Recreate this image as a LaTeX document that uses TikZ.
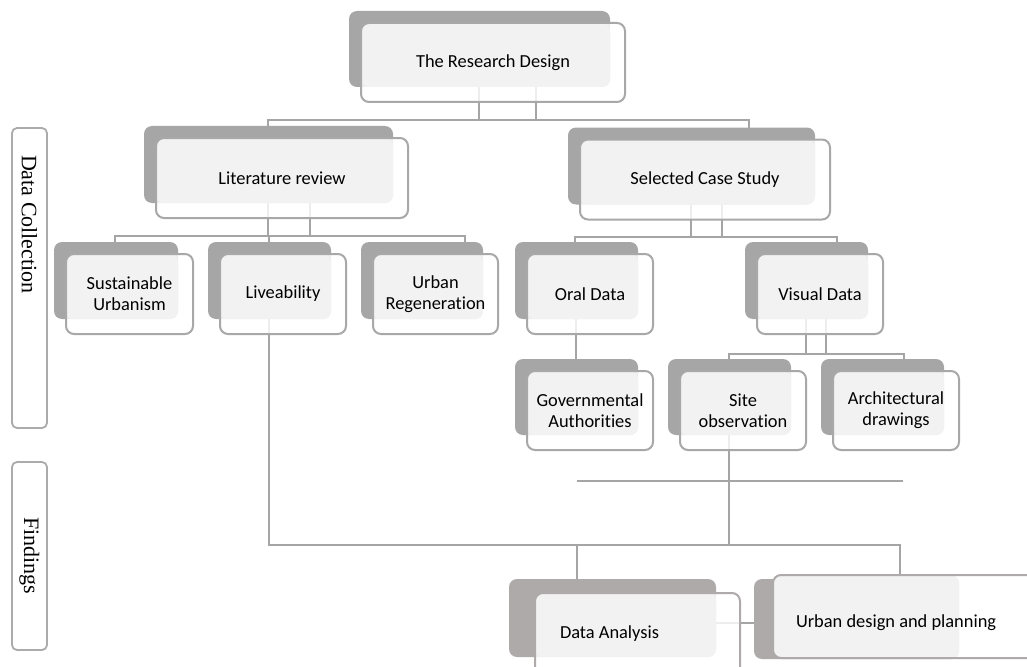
\documentclass[tikz,border=0pt]{standalone}
\usepackage{fontspec}
\newfontfamily\boxfont{Carlito}[Ligatures={NoCommon,NoContextual}]
\newfontfamily\sidefont{Liberation Serif}
\usetikzlibrary{backgrounds}
\definecolor{backfill}{HTML}{A6A6A6}
\definecolor{frontline}{HTML}{A8A8A8}
\definecolor{lightfill}{HTML}{F2F2F2}
\definecolor{linkgray}{HTML}{A5A5A5}
\definecolor{warmfill}{HTML}{AEAAAA}
\definecolor{warmline}{HTML}{AEAAAA}
\definecolor{sideline}{HTML}{ABABAB}
\tikzset{
  frontbox/.style 2 args={draw=frontline, line width=2pt, rounded corners=8pt, fill=white, fill opacity=0.8, text opacity=1,
    inner sep=0pt, align=center, font=\boxfont\fontsize{18.4}{20.7}\selectfont,
    path picture={\fill[lightfill, fill opacity=1, rounded corners=8pt] (path picture bounding box.north west) rectangle ([xshift=-#1pt, yshift=#2pt]path picture bounding box.south east);}},
  sidebox/.style={draw=sideline, line width=1.8pt, rounded corners=5pt, fill=white, inner sep=0pt, font=\sidefont\fontsize{22}{26}\selectfont},
  conn/.style={draw=linkgray, line width=1.6pt}
}
\def\bx{12}
\def\bi{15}
\def\smartbox(#1)(#2,#3)(#4,#5)#6{\fill[backfill, rounded corners=8pt] (#2-#4/2-\bx, #3-#5/2-\bx) rectangle (#2+#4/2-\bi, #3+#5/2-\bi);
  \node[frontbox={\bi}{\bi}, minimum width=#4pt, minimum height=#5pt] (#1) at (#2,#3) {#6};}

\begin{document}
\begin{tikzpicture}[x=1pt, y=-1pt]
  %%%%% START %%%%%
  \useasboundingbox (0,0) rectangle (1027,666);

  % side labels
  \node[sidebox, rotate=-90, minimum width=300pt, minimum height=35pt, text width=246pt, align=flush left] (dc) at (29.5,278) {Data Collection};
  \node[sidebox, rotate=-90, minimum width=188pt, minimum height=35pt] (fnd) at (29.5,556) {Findings};

  % hierarchy
  \smartbox(rd)(493,62.5)(264,79){The Research Design}
  \smartbox(lit)(282,178)(252,80){Literature review}
  \smartbox(scs)(705,179.5)(250,80){Selected Case Study}
  \smartbox(sus)(129.5,294)(127,80){Sustainable\\Urbanism}
  \smartbox(liv)(283,294)(126,80){Liveability}
  \smartbox(urb)(435.5,294)(125,80){Urban\\Regeneration}
  \smartbox(oral)(590,294)(126,80){Oral Data}
  \smartbox(vis)(820,294)(126,80){Visual Data}
  \smartbox(gov)(590,410.5)(126,79){Governmental\\Authorities}
  \smartbox(site)(743,410.5)(126,79){Site\\observation}
  \smartbox(arch)(896,410.5)(126,79){Architectural\\drawings}

  % findings
  \fill[warmfill, rounded corners=8pt] (509,579) rectangle (716,657);
  \node[frontbox={24}{18}, draw=warmline, minimum width=205pt, minimum height=82pt, text width=155pt, align=flush left] (da) at (637.5,634) {Data Analysis};
  \fill[warmfill, rounded corners=8pt] (754,579) rectangle (959,659);
  \node[frontbox={101}{0}, draw=warmline, minimum width=287pt, minimum height=83pt, text width=241pt, align=flush left,
    text height=26pt, text depth=5pt] (ud) at (916.5,616.5) {Urban design and planning};

  \coordinate (bus0) at (500,120);
  \coordinate (bus1) at (290,236);
  \coordinate (bus2) at (700,237);
  \coordinate (bus3) at (815,354);
  \coordinate (bus4) at (600,545);
  \coordinate (bus5) at (740,623);
  \coordinate (spare0) at (577,481);
  \coordinate (spare1) at (903,481);

  \begin{pgfonlayer}{background}
    \draw[conn] ([xshift=-14pt]rd.center) -- ([xshift=-14pt]rd.center |- bus0);
    \draw[conn] ([xshift=43pt]rd.center) -- ([xshift=43pt]rd.center |- bus0);
    \draw[conn] ([xshift=-14pt]lit.center) |- (bus0) -| ([xshift=44pt]scs.center);

    \draw[conn] ([xshift=-14pt]lit.center) -- ([xshift=-14pt]lit.center |- bus1);
    \draw[conn] ([xshift=28pt]lit.center) -- ([xshift=28pt]lit.center |- bus1);
    \draw[conn] ([xshift=-14.5pt]sus.center) |- (bus1) -| ([xshift=29.5pt]urb.center);
    \draw[conn] ([xshift=-14pt]liv.center) -- ([xshift=-14pt]liv.center |- bus1);

    \draw[conn] ([xshift=-14pt]scs.center) -- ([xshift=-14pt]scs.center |- bus2);
    \draw[conn] ([xshift=17pt]scs.center) -- ([xshift=17pt]scs.center |- bus2);
    \draw[conn] ([xshift=-15pt]oral.center) |- (bus2) -| ([xshift=17pt]vis.center);
    \draw[conn] ([xshift=-14pt]oral.center) -- ([xshift=-14pt]gov.center);

    \draw[conn] ([xshift=-14pt]vis.center) -- ([xshift=-14pt]vis.center |- bus3);
    \draw[conn] ([xshift=6pt]vis.center) -- ([xshift=6pt]vis.center |- bus3);
    \draw[conn] ([xshift=-14pt]site.center) |- (bus3) -| ([xshift=8pt]arch.center);

    \draw[conn] ([xshift=-14pt]liv.center) |- (bus4) -| ([xshift=-16.5pt]ud.center);
    \draw[conn] ([xshift=-14pt]site.center) -- ([xshift=-14pt]site.center |- bus4);
    \draw[conn] ([xshift=-60.5pt]da.center) -- ([xshift=-60.5pt]da.center |- bus4);
    \draw[conn] (spare0) -- (spare1);
    \draw[conn] (da.center |- bus5) -- (ud.center |- bus5);
  \end{pgfonlayer}
  %%%%% START %%%%%
\end{tikzpicture}
\end{document}
